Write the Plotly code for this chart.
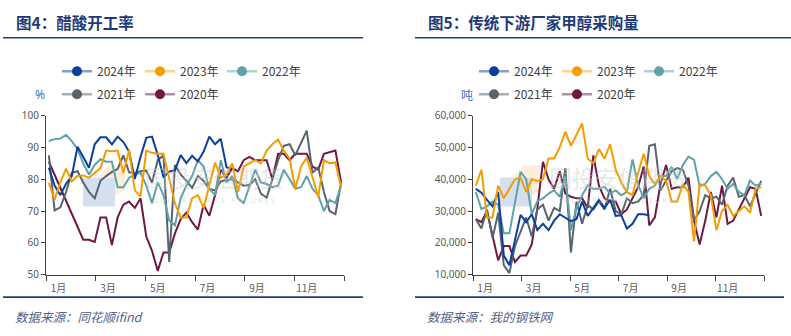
import plotly.graph_objects as go

W, H = 791, 336

# ---------------- data ----------------
weeks = list(range(1, 53))
month_tickvals = [1, 3, 5, 7, 9, 11]
month_ticks = ["1月", "3月", "5月", "7月", "9月", "11月"]
years = ["2024年", "2023年", "2022年", "2021年", "2020年"]

# 图4 醋酸开工率 (%)
acetic_2024 = [83.6, 78, 75, 78.6, 81, 90.2, 87, 83.6, 91, 93.2, 93.2, 91, 93.4, 91.7, 88.7, 80.1,
               87.1, 93, 93.4, 87.6, 80.6, 82.4, 82.8, 87.6, 85.1, 87.4, 85.6, 88.7, 93.4, 91, 92.7,
               83.8, 83.1]
acetic_2023 = [78.9, 73.6, 79, 83.3, 79.3, 81, 81.2, 80.5, 82, 83.5, 89, 88.8, 89, 82, 89.2, 76.5,
               74.6, 89, 88.3, 88, 88, 80, 72.5, 68, 68, 74, 75, 71, 78, 85.2, 80.5, 81.5, 85, 76,
               84, 85, 86, 85, 89, 91, 92.5, 89, 86.5, 77, 84, 86.8, 81, 74.5, 86, 85, 85.3, 77.5]
acetic_2022 = [92, 92.6, 92.8, 94, 92, 89.5, 85, 81.5, 84.5, 86.3, 85.5, 85.5, 77.5, 77.5, 80.5,
               81.5, 82, 78, 72.5, 79, 75, 67, 65.5, 74, 78, 81, 86, 84, 77, 75, 86, 79, 81, 74,
               72.5, 78, 83, 79, 78.5, 77.5, 78, 83, 80, 77, 77.5, 81, 77, 75, 70, 73.5, 72.5, 78]
acetic_2021 = [87.5, 70.2, 71.2, 76, 82, 82.5, 79, 76, 74, 79.5, 81, 82.3, 83.2, 87.5, 82.2, 82,
               82.5, 82.7, 79, 86, 87.5, 54, 84.5, 81.5, 79.5, 77.3, 81, 79.5, 77, 76.5, 79.3, 79.8,
               80, 79, 78, 78.2, 80, 75.5, 74.2, 80, 86, 90.5, 91, 87.5, 91.5, 95.3, 82, 83.8, 76,
               70, 69, 79]
acetic_2020 = [85.5, 81.5, 77.5, 73.5, 69.5, 65, 61, 61, 60.3, 68, 68, 59.3, 68, 72, 73, 71, 74,
               62, 57.5, 51.2, 57, 57, 63, 67.5, 69.5, 66.5, 64.2, 72, 68.5, 75, 83, 80.5, 83.5,
               82.5, 86, 87, 86, 86, 86, 80, 88, 88, 86, 88, 88, 88, 84, 83, 88, 88.5, 89, 79]

# 图5 传统下游厂家甲醇采购量 (吨)
methanol_2024 = [37000, 35800, 33500, 31500, 36000, 16000, 13000, 21000, 28800, 26500, 29000,
                 24000, 26000, 24000, 27000, 29000, 28000, 26800, 27500, 33000, 28500, 31000,
                 33500, 31000, 33500, 28500, 28700, 24500, 26000, 29000, 29000, 28700]
methanol_2023 = [38000, 43000, 28000, 28000, 38000, 34000, 37000, 40000, 40500, 36000, 40000,
                 39500, 40000, 46500, 46500, 50000, 55000, 50500, 54000, 57500, 46500, 45000,
                 49500, 46500, 51000, 43000, 39000, 36000, 35000, 42000, 48000, 41000, 38500,
                 41000, 39500, 33000, 33000, 38500, 36000, 20500, 38500, 38000, 35000, 24000,
                 30000, 32000, 28500, 30000, 31500, 29500, 37000, 37500]
methanol_2022 = [36000, 30600, 31500, 33000, 32000, 23000, 23000, 33000, 42300, 40000, 29000,
                 33100, 34000, 35500, 36500, 34500, 41000, 24000, 31000, 35000, 38100, 37000,
                 37000, 37600, 35500, 36500, 35000, 36000, 46200, 38400, 34000, 37000, 38000,
                 41000, 41000, 43900, 40000, 44500, 47100, 46100, 37800, 38500, 41000, 42300,
                 40000, 37000, 38500, 36000, 35000, 39600, 38000, 38600]
methanol_2021 = [27500, 24500, 30500, 21500, 29500, 13000, 10500, 19000, 23500, 28000, 22000,
                 30500, 32000, 27000, 31000, 30000, 43500, 17000, 33000, 26000, 32000, 30500,
                 33000, 30500, 37000, 30000, 29000, 34000, 32500, 33000, 35000, 50500, 51000,
                 36500, 39500, 42500, 43500, 43000, 38000, 27000, 30000, 35000, 34000, 34500,
                 32000, 38000, 40500, 34500, 35000, 31500, 35500, 39500]
methanol_2020 = [27500, 26500, 30000, 22000, 14500, 19000, 19000, 14000, 16000, 16000, 19500,
                 31000, 45500, 40000, 37000, 42500, 35500, 34500, 34000, 34000, 31000, 47500,
                 38000, 34000, 33000, 33000, 29000, 30500, 34000, 37500, 44000, 25500, 28000,
                 38500, 44500, 37000, 37500, 37500, 40500, 27000, 19500, 27000, 36000, 28000,
                 38000, 26000, 27000, 30500, 34500, 37500, 37000, 28500]

colors = {"2024年": "#0b3f9c", "2023年": "#f59d00", "2022年": "#5fa3a9",
          "2021年": "#56646e", "2020年": "#6c1a45"}
legend_line = {"2024年": "rgba(11,63,156,0.5)", "2023年": "rgba(245,157,0,0.45)",
               "2022年": "rgba(95,163,169,0.5)", "2021年": "rgba(86,100,110,0.5)",
               "2020年": "rgba(108,26,69,0.5)"}

left_series = {"2024年": acetic_2024, "2023年": acetic_2023, "2022年": acetic_2022,
               "2021年": acetic_2021, "2020年": acetic_2020}
right_series = {"2024年": methanol_2024, "2023年": methanol_2023, "2022年": methanol_2022,
                "2021年": methanol_2021, "2020年": methanol_2020}


def xpos(n):
    # week index -> month scale (12 months over 52 weeks)
    return [(w - 0.5) * 12 / 52 for w in weeks[:n]]


def px(x):
    return x / W


def py(y):
    return 1 - y / H


fig = go.Figure()

draw_order = ["2020年", "2021年", "2022年", "2024年", "2023年"]
for ax, series in (("", left_series), ("2", right_series)):
    for yr in draw_order:
        vals = series[yr]
        fig.add_trace(go.Scatter(
            x=xpos(len(vals)), y=vals, mode="lines",
            line=dict(color=colors[yr], width=2),
            xaxis="x" + ax, yaxis="y" + ax, showlegend=False, hoverinfo="skip"))

# legends (one legend per entry, positioned like the reference)
legend_layout = {}
slot_x = [57, 140, 222]
rows_y = [66, 90]
k = 0
for panel, x0, ax in ((0, 0, ""), (1, 417, "2")):
    for i, yr in enumerate(years):
        k += 1
        name = "legend" if k == 1 else f"legend{k}"
        lx = x0 + slot_x[i % 3]
        ly = rows_y[i // 3]
        fig.add_trace(go.Scatter(
            x=[None], y=[None], mode="lines+markers", name=yr,
            line=dict(color=legend_line[yr], width=2.5),
            marker=dict(color=colors[yr], size=10),
            xaxis="x" + ax, yaxis="y" + ax, legend=name, showlegend=True))
        legend_layout[name] = dict(
            x=px(lx), y=py(ly), xanchor="left", yanchor="middle",
            bgcolor="rgba(0,0,0,0)", borderwidth=0,
            font=dict(family="Noto Sans CJK SC, Noto Sans, sans-serif", size=12, color="#404040"),
            itemwidth=30)

tickfont = dict(family="Noto Sans, DejaVu Sans, sans-serif", size=10, color="#595959")
xfont = dict(family="Noto Sans CJK SC, sans-serif", size=10, color="#595959")

ydom = [py(278.3), py(112.3)]


def xaxis_cfg(domain, anchor):
    return dict(domain=domain, anchor=anchor, range=[0, 12], showgrid=False, zeroline=False,
                tickmode="array", tickvals=[m - 0.5 for m in month_tickvals], ticktext=month_ticks,
                ticks="", showline=True, linecolor="#404040", linewidth=1, tickfont=xfont,
                ticklabelstandoff=4,
                minor=dict(tickmode="array", tickvals=[0, 2, 4, 6, 8, 10, 12], ticks="outside",
                           ticklen=5, tickcolor="#404040", tickwidth=1, showgrid=False))


def yaxis_cfg(anchor, rng, dtick, fmt=None):
    d = dict(domain=ydom, anchor=anchor, range=rng, dtick=dtick, tick0=rng[0], showgrid=False,
             zeroline=False, showline=True, linecolor="#404040", linewidth=1, ticks="outside",
             ticklen=4, tickcolor="#404040", tickfont=tickfont)
    if fmt:
        d["tickformat"] = fmt
    return d


shapes = []
title_color = "#1f3a7a"
for (a, b) in ((3, 363), (415, 791)):
    shapes.append(dict(type="line", xref="paper", yref="paper", x0=px(a), x1=px(b),
                       y0=py(31), y1=py(31), line=dict(color="#1f3f80", width=1.6)))
    shapes.append(dict(type="line", xref="paper", yref="paper", x0=px(a), x1=px(b if b < 791 else 784),
                       y0=py(301.7), y1=py(301.7), line=dict(color="#1f3f80", width=1.6)))

# faint watermark logos
for (bx, ox) in ((83, 97), (500, 512)):
    shapes.append(dict(type="rect", xref="paper", yref="paper", layer="below",
                       x0=px(bx), x1=px(bx + 32), y0=py(207), y1=py(177),
                       fillcolor="rgba(160,185,222,0.45)", line=dict(width=0)))
    shapes.append(dict(type="path", xref="paper", yref="paper", layer="below",
                       path=f"M {px(ox)},{py(177)} L {px(ox+12)},{py(164)} L {px(ox+28)},{py(164)} "
                            f"L {px(ox+28)},{py(190)} L {px(ox+18)},{py(197)} L {px(ox+18)},{py(177)} Z",
                       fillcolor="rgba(250,215,170,0.45)", line=dict(width=0)))

annotations = []
cjk = "Noto Sans CJK SC, sans-serif"
annotations.append(dict(text="<b>图4：醋酸开工率</b>", x=px(14), y=py(15), xref="paper", yref="paper",
                        xanchor="left", yanchor="middle", showarrow=False,
                        font=dict(family=cjk, size=15.5, color=title_color)))
annotations.append(dict(text="<b>图5：传统下游厂家甲醇采购量</b>", x=px(426), y=py(15), xref="paper",
                        yref="paper", xanchor="left", yanchor="middle", showarrow=False,
                        font=dict(family=cjk, size=15.5, color=title_color)))
annotations.append(dict(text="%", x=px(40), y=py(90), xref="paper", yref="paper", xanchor="center",
                        yanchor="middle", showarrow=False,
                        font=dict(family="Noto Sans, sans-serif", size=12, color="#4472c4")))
annotations.append(dict(text="吨", x=px(467), y=py(90), xref="paper", yref="paper", xanchor="center",
                        yanchor="middle", showarrow=False, font=dict(family=cjk, size=12, color="#4472c4")))
annotations.append(dict(text="数据来源：同花顺ifind", x=px(13), y=py(322), xref="paper", yref="paper",
                        xanchor="left", yanchor="middle", showarrow=False,
                        font=dict(family=cjk, size=12.5, color="#52628a", style="italic")))
annotations.append(dict(text="数据来源：我的钢铁网", x=px(425), y=py(322), xref="paper", yref="paper",
                        xanchor="left", yanchor="middle", showarrow=False,
                        font=dict(family=cjk, size=12.5, color="#52628a", style="italic")))
# watermark text
for (cx,) in ((214,), (618,)):
    annotations.append(dict(text="国投安信期货", x=px(cx), y=py(176), xref="paper", yref="paper",
                            xanchor="center", yanchor="middle", showarrow=False,
                            font=dict(family=cjk, size=23, color="rgba(200,200,200,0.45)")))
    annotations.append(dict(text="S D I C   E S S E N C E   F U T U R E S", x=px(cx), y=py(200),
                            xref="paper", yref="paper", xanchor="center", yanchor="middle",
                            showarrow=False,
                            font=dict(family="Noto Sans, sans-serif", size=7.5,
                                      color="rgba(200,200,200,0.55)")))

fig.update_layout(
    width=W, height=H, margin=dict(l=0, r=0, t=0, b=0),
    paper_bgcolor="white", plot_bgcolor="rgba(0,0,0,0)",
    xaxis=xaxis_cfg([px(46), px(344)], "y"),
    yaxis=yaxis_cfg("x", [50, 100], 10),
    xaxis2=xaxis_cfg([px(473), px(764)], "y2"),
    yaxis2=yaxis_cfg("x2", [10000, 60000], 10000, ","),
    shapes=shapes, annotations=annotations,
    **legend_layout,
)

fig.write_html("out.html")
